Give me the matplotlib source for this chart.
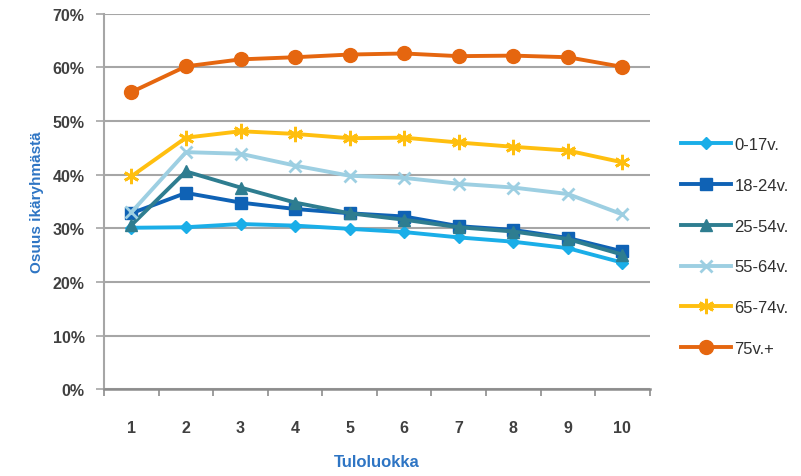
import numpy as np
import matplotlib.pyplot as plt
from matplotlib.ticker import FuncFormatter, MultipleLocator

# Tuloluokat 1..10
luokat = [1, 2, 3, 4, 5, 6, 7, 8, 9, 10]

# Osuudet (%) ikäryhmittäin, luettu kuvasta
v0_17 = [30.1, 30.2, 30.8, 30.5, 29.9, 29.3, 28.3, 27.5, 26.3, 23.6]
v18_24 = [32.8, 36.6, 34.8, 33.6, 32.8, 32.2, 30.4, 29.7, 28.2, 25.7]
v25_54 = [30.6, 40.6, 37.6, 34.8, 32.8, 31.6, 30.2, 29.4, 28.0, 25.1]
v55_64 = [33.0, 44.2, 43.9, 41.7, 39.8, 39.4, 38.3, 37.6, 36.4, 32.6]
v65_74 = [39.7, 46.9, 48.1, 47.6, 46.8, 46.9, 46.0, 45.2, 44.5, 42.3]
v75 = [55.4, 60.2, 61.5, 61.9, 62.4, 62.6, 62.1, 62.2, 61.9, 60.1]

nimet = ['0-17v.', '18-24v.', '25-54v.', '55-64v.', '65-74v.', '75v.+']
sarjat = [v0_17, v18_24, v25_54, v55_64, v65_74, v75]
varit = ['#1aaee8', '#0f62b5', '#2e7d90', '#9dcfe2', '#ffbf0f', '#e5660f']
merkit = ['D', 's', '^', 'x', (6, 2, 0), 'o']
koot = [6, 9, 8, 9, 11, 10]

plt.rcParams['font.family'] = ['Liberation Sans', 'DejaVu Sans']

fig = plt.figure(figsize=(8.01, 4.77), dpi=100)
ax = fig.add_axes([0.13, 0.182, 0.681, 0.787])

for y, nimi, c, m, s in zip(sarjat, nimet, varit, merkit, koot):
    ohut = m == 'x' or isinstance(m, tuple)
    ax.plot(luokat, y, color=c, marker=m, markersize=s, linewidth=2.8,
            markeredgewidth=2 if ohut else 1, label=nimi)

ax.set_xlim(0.5, 10.5)
ax.set_ylim(0, 70)
ax.set_xticks(luokat)
ax.xaxis.set_minor_locator(MultipleLocator(1, offset=0.5))
ax.yaxis.set_major_locator(MultipleLocator(10))
ax.yaxis.set_major_formatter(FuncFormatter(lambda v, p: f'{v:.0f}%'))
ax.grid(axis='y', color='#a6a6a6', linewidth=1.5)
ax.set_axisbelow(True)

for s in ['top', 'right']:
    ax.spines[s].set_visible(False)
ax.spines['left'].set_color('#a6a6a6')
ax.spines['bottom'].set_color('#8c8c8c')
ax.spines['left'].set_linewidth(1.5)
ax.spines['bottom'].set_linewidth(1.8)

ax.tick_params(axis='y', length=6, color='#a6a6a6', width=1.2, labelsize=11.5,
               labelcolor='#404040', pad=8)
ax.tick_params(axis='x', which='major', length=0, labelsize=11.5,
               labelcolor='#404040', pad=22)
ax.tick_params(axis='x', which='minor', length=5, color='#8c8c8c', width=1.2)
for t in ax.get_xticklabels() + ax.get_yticklabels():
    t.set_fontweight('bold')

ax.set_xlabel('Tuloluokka', color='#2e75c4', fontsize=12, fontweight='bold', labelpad=14)
ax.set_ylabel('Osuus ikäryhmästä', color='#2e75c4', fontsize=11, fontweight='bold', labelpad=6)

ax.legend(loc='center left', bbox_to_anchor=(1.03, 0.38), frameon=False,
          fontsize=12, labelspacing=1.55, handlelength=3.0, handletextpad=0.2,
          labelcolor='#303030')

fig.savefig('out.png', dpi=100)
